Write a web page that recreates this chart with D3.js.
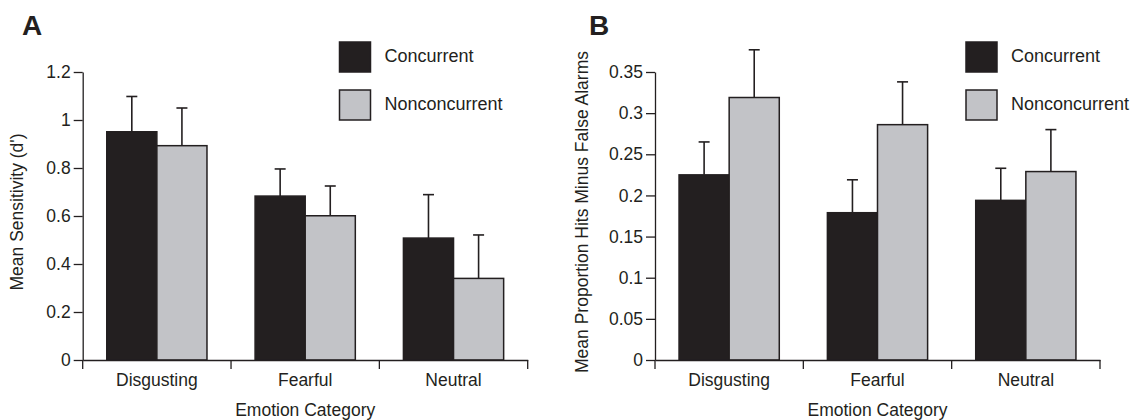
<!DOCTYPE html>
<html>
<head>
<meta charset="utf-8">
<script src="https://cdn.jsdelivr.net/npm/d3@7"></script>
<style>
  body { margin: 0; background: #fff; }
  svg text { font-family: "Liberation Sans", Arial, Helvetica, sans-serif; fill: #231f20; }
</style>
</head>
<body>
<svg id="chart" width="1133" height="420"></svg>
<script>
// data
var categories = ['Disgusting', 'Fearful', 'Neutral'];
var series = ['Concurrent', 'Nonconcurrent'];

var sensitivity = [0.951, 0.683, 0.508];      // A, concurrent
var sensitivityNon = [0.893, 0.601, 0.340];   // A, nonconcurrent
var sensitivityErr = [0.147, 0.113, 0.181];
var sensitivityErrNon = [0.157, 0.124, 0.181];

var hitsMinusFA = [0.225, 0.179, 0.194];      // B, concurrent
var hitsMinusFANon = [0.319, 0.286, 0.229];   // B, nonconcurrent
var hitsMinusFAErr = [0.040, 0.040, 0.039];
var hitsMinusFAErrNon = [0.058, 0.052, 0.051];

var ticksA = [0, 0.2, 0.4, 0.6, 0.8, 1, 1.2];
var tickLabelsA = ['0', '0.2', '0.4', '0.6', '0.8', '1', '1.2'];
var ticksB = [0, 0.05, 0.1, 0.15, 0.2, 0.25, 0.3, 0.35];
var tickLabelsB = ['0', '0.05', '0.1', '0.15', '0.2', '0.25', '0.3', '0.35'];

var colors = { 'Concurrent': '#231f20', 'Nonconcurrent': '#c2c3c7' };
var ink = '#231f20';

var svg = d3.select('#chart');

function panel(opt) {
    var g = svg.append('g');

    var x = d3.scaleBand().domain(categories).range([opt.left, opt.left + 445]).padding(0);
    var xs = d3.scaleBand().domain(series).range([0, x.bandwidth()]).paddingInner(0).paddingOuter(0.48);
    var y = d3.scaleLinear().domain([0, opt.max]).range([360, 72]);

    var rows = [];
    categories.forEach(function(c, i) {
        rows.push({ cat: c, s: 'Concurrent', v: opt.a[i], e: opt.ae[i] });
        rows.push({ cat: c, s: 'Nonconcurrent', v: opt.b[i], e: opt.be[i] });
    });

    // error bars behind the bars
    var eb = g.append('g').attr('stroke', ink).attr('stroke-width', 1.6);
    rows.forEach(function(d) {
        var cx = x(d.cat) + xs(d.s) + xs.bandwidth() / 2;
        eb.append('line').attr('x1', cx).attr('x2', cx).attr('y1', y(d.v)).attr('y2', y(d.v + d.e));
        eb.append('line').attr('x1', cx - 5.5).attr('x2', cx + 5.5).attr('y1', y(d.v + d.e)).attr('y2', y(d.v + d.e));
    });

    g.append('g').selectAll('rect').data(rows).join('rect')
        .attr('x', function(d) { return x(d.cat) + xs(d.s); })
        .attr('y', function(d) { return y(d.v); })
        .attr('width', xs.bandwidth())
        .attr('height', function(d) { return y(0) - y(d.v); })
        .attr('fill', function(d) { return colors[d.s]; })
        .attr('stroke', ink)
        .attr('stroke-width', 1.5);

    // y axis
    var yAxis = d3.axisLeft(y).tickValues(opt.ticks)
        .tickFormat(function(d, i) { return opt.labels[i]; })
        .tickSize(9).tickSizeOuter(0).tickPadding(3);
    var ya = g.append('g').attr('transform', 'translate(' + opt.left + ',0)').call(yAxis);
    ya.selectAll('text').style('font-size', '17.5px').attr('fill', ink);
    ya.selectAll('line, path').attr('stroke', ink).attr('stroke-width', 1.3);

    // x axis: labels centred, ticks on band edges
    var xAxis = d3.axisBottom(x).tickSize(0).tickPadding(14).tickSizeOuter(0);
    var xa = g.append('g').attr('transform', 'translate(0,360)').call(xAxis);
    xa.selectAll('text').style('font-size', '17.5px').attr('fill', ink);
    xa.select('.domain').attr('stroke', ink).attr('stroke-width', 1.5);
    var edges = categories.map(function(c) { return x(c); }).concat([x.range()[1]]);
    xa.selectAll('.edge').data(edges).join('line').attr('class', 'edge')
        .attr('x1', function(d) { return d; }).attr('x2', function(d) { return d; })
        .attr('y1', 0).attr('y2', 9)
        .attr('stroke', ink).attr('stroke-width', 1.3);

    g.append('text')
        .attr('x', (x.range()[0] + x.range()[1]) / 2).attr('y', 416)
        .attr('text-anchor', 'middle').style('font-size', '17.5px')
        .text('Emotion Category');

    g.append('text')
        .attr('transform', 'translate(' + opt.titleX + ',212) rotate(-90)')
        .attr('text-anchor', 'middle').style('font-size', '17.5px')
        .text(opt.title);

    g.append('text').attr('x', opt.letterX).attr('y', 35)
        .style('font-size', '28px').style('font-weight', 'bold')
        .text(opt.letter);

    // legend
    var lg = g.append('g').attr('transform', 'translate(' + opt.legendX + ',42)');
    series.forEach(function(s, i) {
        lg.append('rect').attr('x', 0).attr('y', i * 48).attr('width', 31).attr('height', 30)
            .attr('fill', colors[s]).attr('stroke', ink).attr('stroke-width', 1.5);
        lg.append('text').attr('x', 45).attr('y', i * 48 + 20)
            .style('font-size', '18px').text(s);
    });
}

panel({
    left: 82.7, max: 1.2, ticks: ticksA, labels: tickLabelsA,
    a: sensitivity, b: sensitivityNon, ae: sensitivityErr, be: sensitivityErrNon,
    title: "Mean Sensitivity (d')", titleX: 23, letter: 'A', letterX: 22, legendX: 339.5
});

panel({
    left: 655, max: 0.35, ticks: ticksB, labels: tickLabelsB,
    a: hitsMinusFA, b: hitsMinusFANon, ae: hitsMinusFAErr, be: hitsMinusFAErrNon,
    title: 'Mean Proportion Hits Minus False Alarms', titleX: 588, letter: 'B', letterX: 589, legendX: 966
});
</script>
</body>
</html>
